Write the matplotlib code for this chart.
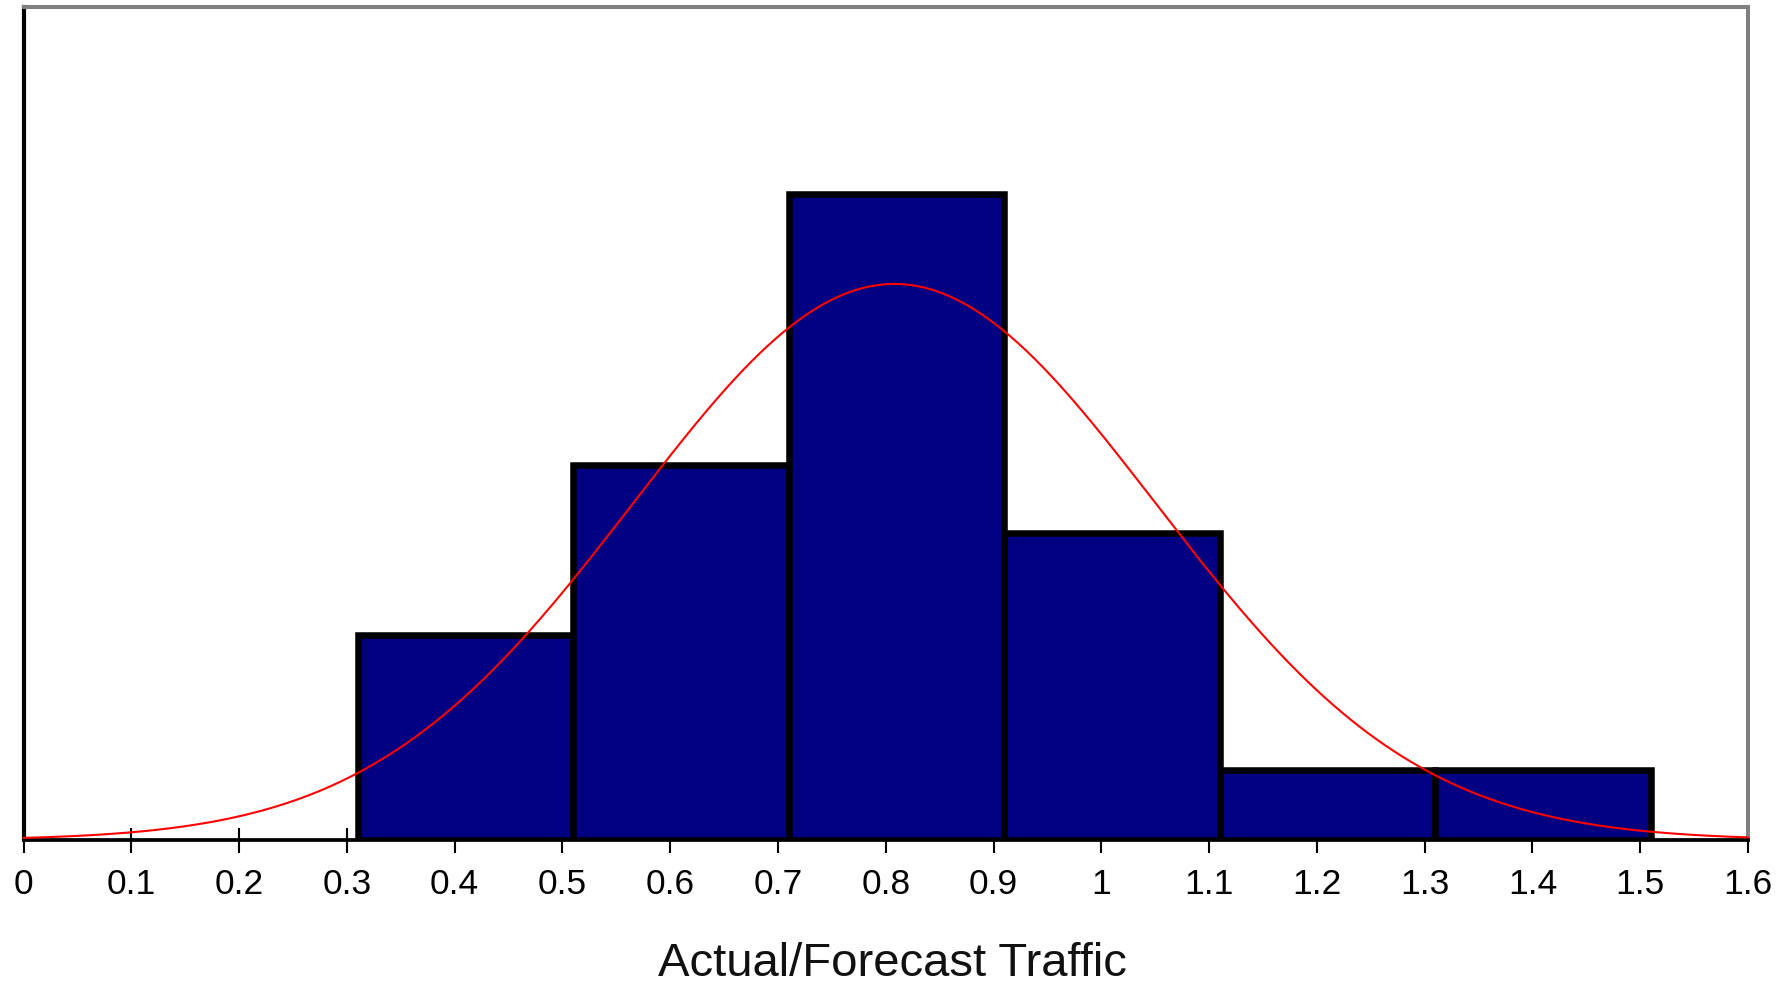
import numpy as np
import matplotlib
matplotlib.use("Agg")
import matplotlib.pyplot as plt

plt.rcParams["font.family"] = ["Liberation Sans", "DejaVu Sans"]

# Histogram of actual/forecast traffic ratios (bin edges and bar heights)
bin_edges = [0.31, 0.51, 0.71, 0.91, 1.11, 1.31, 1.51]
bar_heights = [2.91, 5.32, 9.17, 4.36, 1.0, 1.0]

# Fitted normal curve parameters
curve_mean = 0.808
curve_sd = 0.242
curve_peak = 7.89

x_ticks = [0, 0.1, 0.2, 0.3, 0.4, 0.5, 0.6, 0.7, 0.8, 0.9, 1, 1.1, 1.2, 1.3, 1.4, 1.5, 1.6]
x_tick_labels = ["0", "0.1", "0.2", "0.3", "0.4", "0.5", "0.6", "0.7", "0.8",
                 "0.9", "1", "1.1", "1.2", "1.3", "1.4", "1.5", "1.6"]
x_label = "Actual/Forecast Traffic"

W, H, DPI = 1789, 983, 100
fig = plt.figure(figsize=(W / DPI, H / DPI), dpi=DPI)
left_px, right_px, top_px, bottom_px = 23.5, 1748, 7, 840
ax = fig.add_axes([left_px / W, 1 - bottom_px / H,
                   (right_px - left_px) / W, (bottom_px - top_px) / H])

lefts = bin_edges[:-1]
widths = np.diff(bin_edges)
ax.bar(lefts, bar_heights, width=widths, align="edge", color="#000080",
       edgecolor="black", linewidth=4.7, zorder=1)

xs = np.linspace(0, 1.6, 400)
ys = curve_peak * np.exp(-((xs - curve_mean) ** 2) / (2 * curve_sd ** 2))
ax.plot(xs, ys, color="#ff0000", linewidth=1.5, zorder=3, clip_on=False)

ax.set_xlim(0, 1.6)
ax.set_ylim(0, 11.82)
ax.set_axisbelow(True)

ax.set_xticks(x_ticks)
ax.set_xticklabels(x_tick_labels)
ax.set_yticks([])
ax.tick_params(axis="x", direction="inout", length=18, width=1.5,
               color="black", labelsize=25.5, pad=11, labelcolor="black")

ax.spines["left"].set_color("black")
ax.spines["left"].set_linewidth(3.0)
ax.spines["bottom"].set_color("black")
ax.spines["bottom"].set_linewidth(2.7)
for side in ("top", "right"):
    ax.spines[side].set_color("#808080")
    ax.spines[side].set_linewidth(2.9)

ax.set_xlabel(x_label, fontsize=34, color="#111111")
ax.xaxis.label.set_va("baseline")
ax.xaxis.set_label_coords(0.5036, -0.163)

fig.savefig("out.png", dpi=DPI, facecolor="white")
